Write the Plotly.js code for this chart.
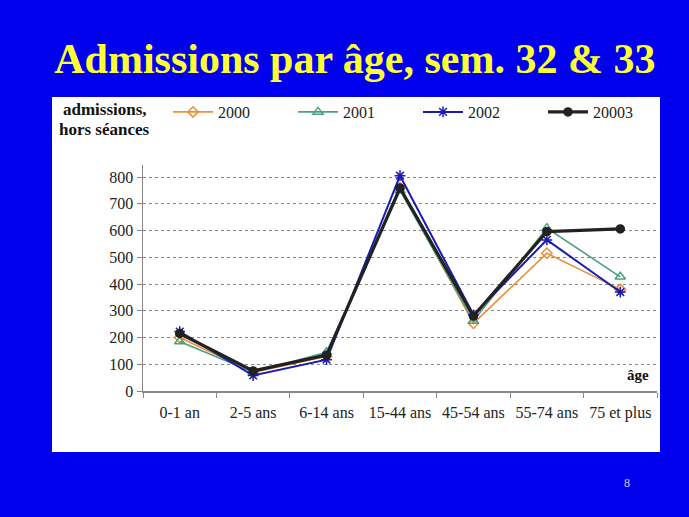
<!DOCTYPE html>
<html>
<head>
<meta charset="utf-8">
<script src="https://cdn.plot.ly/plotly-3.0.1.min.js"></script>
<style>html,body{margin:0;padding:0;background:#0000EE;}#chart{width:689px;height:517px;}</style>
</head>
<body>
<div id="chart"></div>
<script>
const categories = ["0-1 an", "2-5 ans", "6-14 ans", "15-44 ans", "45-54 ans", "55-74 ans", "75 et plus"];
const yTickVals = [0, 100, 200, 300, 400, 500, 600, 700, 800];
const seriesNames = ["2000", "2001", "2002", "20003"];
const v2000 = [200, 70, 130, 760, 253, 515, 380];
const v2001 = [185, 70, 145, 750, 262, 609, 427];
const v2002 = [222, 58, 117, 805, 285, 565, 370];
const v2003 = [215, 75, 134, 759, 280, 596, 606];

const L = 143, R = 657, T = 165, B = 391;
const px = x => (x - L) / (R - L);
const py = y => (B - y) / (B - T);
const serif = "Liberation Serif, Times New Roman, serif";

const traces = [
  {name: seriesNames[0], y: v2000, color: "#E8903A", width: 1.6, symbol: "diamond-open", size: 8},
  {name: seriesNames[1], y: v2001, color: "#4E9E80", width: 1.6, symbol: "triangle-up-open", size: 9},
  {name: seriesNames[2], y: v2002, color: "#1A1AB5", width: 2, symbol: "asterisk-open", size: 9},
  {name: seriesNames[3], y: v2003, color: "#222222", width: 3.2, symbol: "circle", size: 8}
].map(s => ({
  type: "scatter", mode: "lines+markers", name: s.name,
  x: categories, y: s.y,
  line: {color: s.color, width: s.width},
  marker: {symbol: s.symbol, size: s.size, color: s.color, line: {color: s.color, width: 1.5}}
}));

const layout = {
  width: 689, height: 517,
  paper_bgcolor: "#0000EE", plot_bgcolor: "rgba(0,0,0,0)",
  margin: {l: L, r: 689 - R, t: T, b: 517 - B},
  title: {text: "<b>Admissions par âge, sem. 32 & 33</b>", font: {family: serif, size: 42, color: "#FFFF33"},
          x: 0.515, xanchor: "center", y: 1 - 58 / 517, yanchor: "middle", yref: "container"},
  showlegend: true,
  legend: {orientation: "h", x: px(168), xanchor: "left", y: py(112), yanchor: "middle",
           bgcolor: "rgba(0,0,0,0)", font: {family: serif, size: 16, color: "#222"},
           entrywidth: 70, entrywidthmode: "pixels", itemwidth: 40},
  xaxis: {type: "category", range: [-0.5, 6.5], tickson: "boundaries", ticks: "outside", ticklen: 5,
          tickcolor: "#888", showline: true, linecolor: "#888", linewidth: 1.5, showgrid: false,
          ticklabelstandoff: 6,
          tickfont: {family: serif, size: 16, color: "#222"}, fixedrange: true},
  yaxis: {range: [0, 845], tickvals: yTickVals, ticks: "outside", ticklen: 5, tickcolor: "#888",
          showline: true, linecolor: "#888", linewidth: 1.5, showgrid: true, gridcolor: "#888",
          griddash: "dot", gridwidth: 1, zeroline: false,
          tickfont: {family: serif, size: 16, color: "#222"}},
  shapes: [
    {type: "rect", xref: "paper", yref: "paper", x0: px(52), x1: px(660), y0: py(452), y1: py(97),
     fillcolor: "#FFFFFF", line: {width: 0}, layer: "below"}
  ],
  annotations: [
    {text: "<b>admissions,</b>", xref: "paper", yref: "paper", x: px(105), y: py(109), xanchor: "center",
     yanchor: "middle", showarrow: false, font: {family: serif, size: 17, color: "#111"}},
    {text: "<b>hors séances</b>", xref: "paper", yref: "paper", x: px(104), y: py(129), xanchor: "center",
     yanchor: "middle", showarrow: false, font: {family: serif, size: 17, color: "#111"}},
    {text: "<b>âge</b>", xref: "paper", yref: "paper", x: px(638), y: py(375), xanchor: "center",
     yanchor: "middle", showarrow: false, font: {family: serif, size: 15, color: "#111"}},
    {text: "8", xref: "paper", yref: "paper", x: px(627), y: py(483), xanchor: "center",
     yanchor: "middle", showarrow: false, font: {family: serif, size: 12, color: "#CCCCFF"}}
  ]
};

Plotly.newPlot("chart", traces, layout, {displayModeBar: false, staticPlot: true});
</script>
</body>
</html>
